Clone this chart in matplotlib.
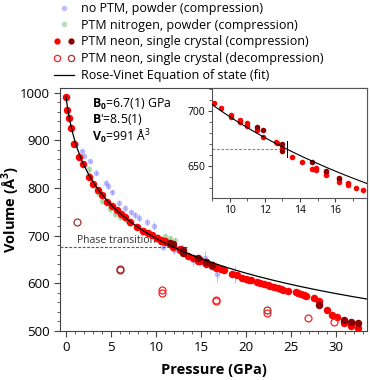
"""
Pressure-volume data of a molecular crystal with a Rose-Vinet equation of state fit
and an inset zoomed on the phase transition region.
"""

import numpy as np
import matplotlib
matplotlib.use('Agg')
import matplotlib.pyplot as plt
from matplotlib.lines import Line2D
from matplotlib.legend_handler import HandlerTuple

# no PTM, powder (compression)
p_noptm = [0.74, 1.1, 1.74, 2.0, 2.67, 3.3, 4.4, 4.7, 5.07, 5.9, 6.56, 7.2, 7.67, 8.1,
           8.96, 9.8, 10.8, 12.0, 12.85, 14.15, 15.4, 16.8, 18.8]
v_noptm = [895, 892, 877, 868, 856, 832, 811, 804, 791, 768, 758, 749, 743, 738,
           729, 721, 677, 670, 674, 648, 653, 620, 619]
e_noptm = [3, 3, 4, 4, 4, 5, 5, 5, 5, 6, 6, 6, 6, 7,
           7, 8, 8, 8, 9, 12, 14, 18, 18]

# PTM nitrogen, powder (compression)
p_n2 = [2.5, 2.67, 2.85, 3.4, 3.96, 4.9, 5.44, 6.0, 6.67, 7.1, 7.85, 8.8, 9.7, 11.0, 11.55, 12.1]
v_n2 = [839, 825, 808, 791, 773, 756, 746, 739, 732, 725, 718.5, 708, 701, 699, 695, 692]
e_n2 = [8, 8, 8, 7, 7, 6, 6, 6, 5, 5, 5, 5, 4, 4, 4, 4]

# PTM neon, single crystal 1 (compression)
p_ne1 = [0, 0.15, 0.3, 0.5, 0.9, 1.45, 1.9, 2.55, 3.0, 3.5, 4.0, 4.6, 5.1, 5.7, 6.1, 6.55,
         7.1, 7.85, 8.6, 9.14, 9.53, 10.06, 10.06, 10.57, 10.57, 11.0, 11.0, 11.55, 11.92,
         12.64, 12.7, 13.0, 13.56, 14.1, 14.65, 14.9, 14.9, 15.5, 15.5, 16.2, 16.2, 16.7,
         16.7, 17.2, 17.57, 18.4, 18.97, 19.6, 19.96, 20.3, 20.6, 21.26, 21.6, 22.0, 22.4,
         22.7, 23.1, 23.5, 23.85, 24.1, 24.7, 25.5, 25.8, 26.1, 26.4, 26.7, 27.55, 28.15,
         29.0, 29.6, 30.15, 30.9, 31.7, 32.4]
v_ne1 = [991, 964, 948, 927, 892, 866, 850, 823, 809, 796, 786, 771, 763, 754, 746, 739,
         729, 719, 710, 706.7, 702, 696, 694.5, 691.5, 689.5, 688.5, 686, 682, 676,
         671.5, 670.5, 666, 657.6, 653.6, 647, 648, 646, 644, 641.5, 638, 635.5, 634.5,
         632, 630, 628, 620, 617, 612, 610, 608, 606.5, 603, 601, 598, 596,
         594, 592, 591, 589, 586.6, 584.5, 581, 579, 577.7, 575.7, 574, 570, 564,
         544.7, 534.4, 529.5, 517, 510, 505.6]

# PTM neon, single crystal 2 (compression)
p_ne2 = [11.55, 11.92, 13.0, 13.0, 14.65, 15.5, 16.2, 28.15, 30.9, 31.7, 32.4]
v_ne2 = [685.5, 682.5, 670, 663, 653, 645, 639, 553.6, 524, 519, 516]

# PTM neon, single crystals (decompression)
p_dec1 = [10.7, 10.7, 16.7, 16.7, 22.3, 26.9, 29.8]
v_dec1 = [586, 580, 566, 562, 538, 528, 518]
p_dec2 = [1.2, 6.0, 6.0, 22.3]
v_dec2 = [729, 631, 627, 545]

# Rose-Vinet fit parameters
B0 = 6.7
Bp = 8.5
V0 = 991.0

BRIGHT = '#ff0000'
DARK = '#8b0000'
FONT = 'Open Sans'


def vinet_curve(v_min, v_max):
    """Pressure of the Rose-Vinet equation of state over a volume range."""
    v = np.linspace(v_max, v_min, 300)
    x = (v / V0) ** (1.0 / 3.0)
    p = 3 * B0 * (1 - x) / x ** 2 * np.exp(1.5 * (Bp - 1) * (1 - x))
    return p, v


def draw_points(ax, ms):
    ax.plot(p_ne1, v_ne1, 'o', color=BRIGHT, ms=ms, mew=0, zorder=4)
    ax.plot(p_ne2, v_ne2, 'o', color=DARK, ms=ms, mew=0, zorder=4)


def main():
    plt.rcParams['font.family'] = [FONT, 'DejaVu Sans']
    plt.rcParams['mathtext.fontset'] = 'custom'
    plt.rcParams['mathtext.rm'] = FONT
    plt.rcParams['mathtext.bf'] = FONT + ':bold'

    fig = plt.figure(figsize=(3.7, 3.8), dpi=100)
    ax = fig.add_axes([60 / 370, 1 - 331 / 380, 307 / 370, 243 / 380])

    ax.errorbar(p_noptm, v_noptm, yerr=e_noptm, fmt='o', color='#7f7fff', ms=4, mew=0,
                elinewidth=0.8, capsize=2, alpha=0.5, zorder=2)
    ax.errorbar(p_n2, v_n2, yerr=e_n2, fmt='o', color='#6fbf6f', ms=4, mew=0,
                elinewidth=0.8, capsize=2, alpha=0.5, zorder=2)
    draw_points(ax, 5.4)
    ax.plot(p_dec1, v_dec1, 'o', mfc='none', mec='#ff2020', ms=5, mew=0.9, zorder=4)
    ax.plot(p_dec2, v_dec2, 'o', mfc='none', mec='#a83030', ms=5, mew=0.9, zorder=4)

    pc, vc = vinet_curve(560, 991)
    ax.plot(pc, vc, color='black', lw=0.9, zorder=5)

    ax.plot([-0.67, 13.4], [677, 677], ls=(0, (2.5, 1.5)), color='#555555', lw=0.8, zorder=3)
    ax.text(1.2, 679, 'Phase transition', fontsize=7.5, color='#333333', va='bottom')

    ax.text(2.85, 975, r'$\mathbf{B_0}$=6.7(1) GPa', fontsize=8.8, va='center')
    ax.text(2.85, 944, r"$\mathbf{B}$'=8.5(1)", fontsize=8.8, va='center')
    ax.text(2.85, 908, r'$\mathbf{V_0}$=991 Å$^3$', fontsize=8.8, va='center')

    ax.set_xlim(-0.67, 33.44)
    ax.set_ylim(500, 1010)
    ax.set_xticks([0, 5, 10, 15, 20, 25, 30])
    ax.set_xticks(np.arange(0, 34, 1), minor=True)
    ax.set_yticks([500, 600, 700, 800, 900, 1000])
    ax.set_yticks(np.arange(500, 1010, 20), minor=True)
    ax.tick_params(labelsize=9.5, length=4, color='#444444')
    ax.tick_params(which='minor', length=2.5, color='#444444')
    for s in ax.spines.values():
        s.set_color('#444444')
    ax.set_xlabel('Pressure (GPa)', fontsize=10.5, fontweight='bold', labelpad=6)
    ax.set_ylabel(r'Volume (Å$^\mathbf{3}$)', fontsize=10.5, fontweight='bold')
    ax.yaxis.set_label_coords(-0.125, 0.5)

    # inset
    axi = fig.add_axes([212 / 370, 1 - 198 / 380, 155 / 370, 110 / 380])
    draw_points(axi, 4)
    pc, vc = vinet_curve(615, 730)
    axi.plot(pc, vc, color='black', lw=0.8, zorder=5)
    axi.plot([9.0, 13.0], [665, 665], ls=(0, (2.5, 1.5)), color='#888888', lw=0.8)
    axi.plot([13.28, 13.28], [657.6, 672], color='black', lw=0.7)
    axi.set_xlim(9.0, 17.8)
    axi.set_ylim(620.6, 720.6)
    axi.set_xticks([10, 12, 14, 16])
    axi.set_xticks(np.arange(9, 18, 1), minor=True)
    axi.set_yticks([650, 700])
    axi.set_yticks(np.arange(630, 721, 10), minor=True)
    axi.tick_params(labelsize=7.5, length=3, color='#444444', pad=2)
    axi.tick_params(which='minor', length=2, color='#444444')
    for s in axi.spines.values():
        s.set_color('#555555')

    # legend
    def mk(color, filled=True, ms=4.5, alpha=1.0):
        if filled:
            return Line2D([], [], ls='none', marker='o', color=color, ms=ms, mew=0, alpha=alpha)
        return Line2D([], [], ls='none', marker='o', mfc='none', mec=color, ms=ms, mew=0.9)

    handles = [mk('#7f7fff', ms=4, alpha=0.5),
               mk('#6fbf6f', ms=4, alpha=0.5),
               (mk(BRIGHT), mk(DARK)),
               (mk('#ff2020', False), mk('#a83030', False)),
               Line2D([], [], color='black', lw=0.9)]
    labels = ['no PTM, powder (compression)',
              'PTM nitrogen, powder (compression)',
              'PTM neon, single crystal (compression)',
              'PTM neon, single crystal (decompression)',
              'Rose-Vinet Equation of state (fit)']
    fig.legend(handles, labels, loc='upper left', bbox_to_anchor=(52 / 370, 1.0),
               frameon=False, fontsize=9, handlelength=1.6, handletextpad=0.6,
               labelspacing=0.3, borderpad=0.15, borderaxespad=0,
               handler_map={tuple: HandlerTuple(ndivide=None, pad=0.6)})

    fig.savefig('out.png', dpi=100)


if __name__ == "__main__":
    main()
